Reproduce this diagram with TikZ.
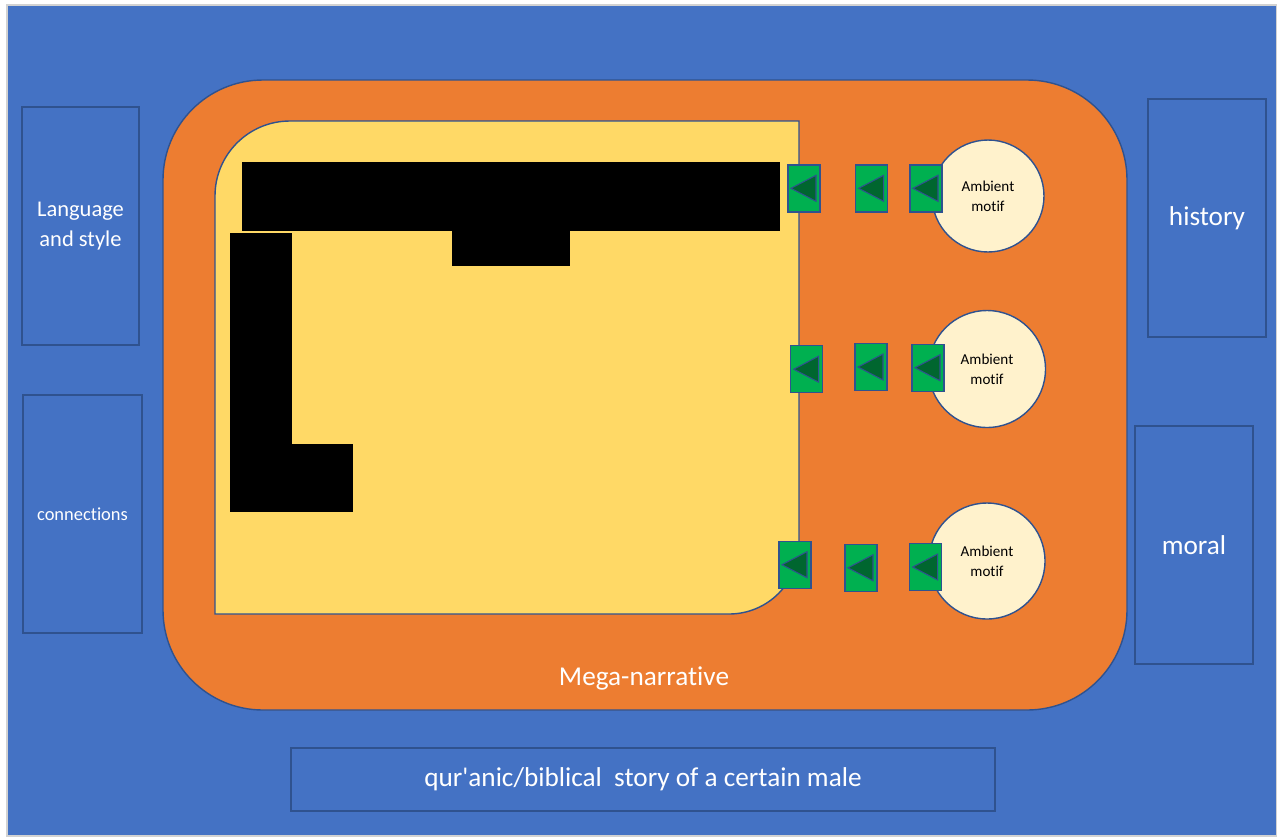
\documentclass[tikz,border=0pt]{standalone}
\usepackage{fontspec}
\setmainfont{Carlito}[Ligatures=NoCommon]
\usepackage{xcolor}
\definecolor{cBlue}{HTML}{4472C4}
\definecolor{cLine}{HTML}{2F528F}
\definecolor{cOrange}{HTML}{ED7D31}
\definecolor{cYellow}{HTML}{FFD966}
\definecolor{cCream}{HTML}{FFF2CC}
\definecolor{cGreen}{HTML}{00B050}
\definecolor{cDark}{HTML}{00662F}
\usetikzlibrary{calc}
\tikzset{
  side-box/.style={draw=cLine,line width=0.8pt,fill=cBlue,text=white,
    align=center,inner sep=0pt},
  motif/.style={circle,draw=cLine,line width=0.8pt,fill=cCream,align=center,
    inner sep=0pt,font=\fontsize{8.6}{11.3}\selectfont},
  link/.style={draw=cLine,line width=0.8pt,fill=cGreen,inner sep=0pt,
    minimum width=0.64cm,minimum height=0.94cm},
  tip/.style={draw=cLine,line width=0.6pt,fill=cDark},
  big-text/.style={text=white,font=\fontsize{15.5}{19}\selectfont},
}

\begin{document}
\begin{tikzpicture}[x=0.02cm,y=-0.02cm]
  \useasboundingbox (0,0) rectangle (1277,836);
  % background
  \fill[cBlue] (7,5) rectangle (1277,836);
  \draw[gray!35,line width=0.8pt] (7,5) rectangle (1277,836);
  % side boxes
  \node[side-box,minimum width=2.34cm,minimum height=4.76cm,
    font=\fontsize{12.8}{17.5}\selectfont] (lang) at (80.5,226) {Language\\and style};
  \node[side-box,minimum width=2.38cm,minimum height=4.76cm,
    font=\fontsize{10.5}{13}\selectfont] (conn) at (82.5,514) {connections};
  \node[side-box,big-text,minimum width=2.36cm,minimum height=4.76cm] (hist) at (1207,218) {history};
  \node[side-box,big-text,minimum width=2.36cm,minimum height=4.76cm] (moral) at (1194,545) {moral};
  \node[side-box,big-text,minimum width=14.08cm,minimum height=1.26cm] (story) at (643,779.5)
    {qur\textquotesingle anic/biblical\ \ story of a certain male};
  % mega-narrative frame
  \draw[cLine,line width=0.8pt,fill=cOrange,rounded corners=2cm] (163,80) rectangle (1127,710);
  \node[big-text] (mega) at (644,678) {Mega-narrative};
  % inner story area
  \draw[cLine,line width=0.8pt,fill=cYellow] (215,614) -- (215,196)
    arc[start angle=180,end angle=270,radius=75] -- (799,121) -- (799,544)
    arc[start angle=0,end angle=90,radius=70] -- cycle;
  % redacted blocks
  \fill[black] (242,162) rectangle (780,231);
  \fill[black] (452,231) rectangle (570,266);
  \fill[black] (230,233) rectangle (292,512);
  \fill[black] (292,444) rectangle (353,512);
  % ambient motifs
  \node[motif,minimum size=2.24cm] (amb1) at (988,196) {Ambient\\motif};
  \node[motif,minimum size=2.34cm] (amb2) at (987,369) {Ambient\\motif};
  \node[motif,minimum size=2.32cm] (amb3) at (987,561) {Ambient\\motif};
  % links
  \foreach \n/\x/\y in {a1/804/188.3, a2/871.7/188.3, a3/926/188.3,
                        b1/806.7/369.2, b2/871/367, b3/928/367.7,
                        c1/795/564.7, c2/861/567.8, c3/925.7/567} {
    \node[link] (\n) at (\x,\y) {};
    \draw[tip] ([shift={(-13,0)}]\n.center) -- ([shift={(12,-13)}]\n.center)
      -- ([shift={(12,13)}]\n.center) -- cycle;
  }
\end{tikzpicture}
\end{document}
